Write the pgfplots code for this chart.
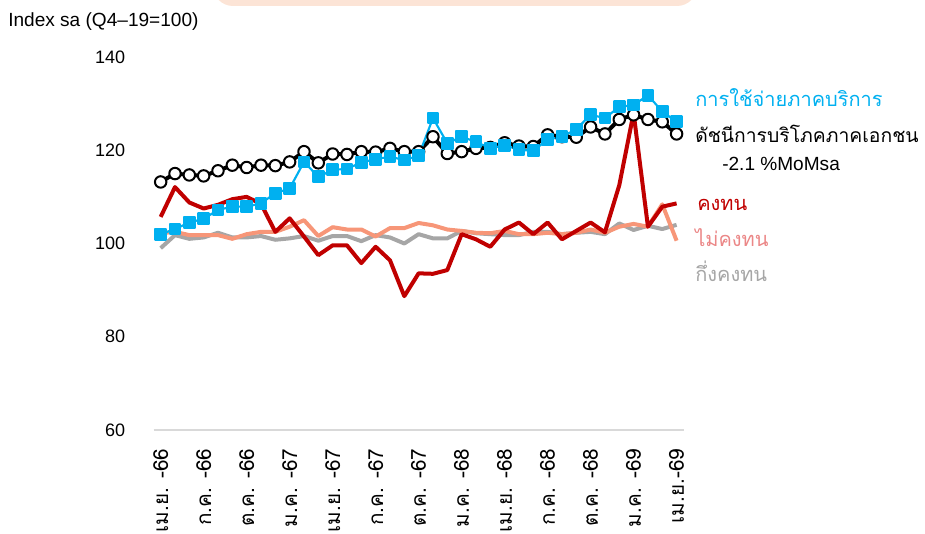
\documentclass[border=0pt]{standalone}
\usepackage{fontspec}
\setmainfont{Liberation Sans}
\newfontfamily\thaifont[Script=Thai]{Loma}
\usepackage{pgfplots}
\usepackage{pgfplotstable}
\pgfplotsset{compat=1.18}

\definecolor{serv}{HTML}{00B0F0}
\definecolor{dur}{HTML}{C00000}
\definecolor{nondur}{RGB}{247,150,120}
\definecolor{nondurtxt}{RGB}{235,135,135}
\definecolor{semi}{HTML}{A6A6A6}
\definecolor{axisgray}{HTML}{D9D9D9}
\definecolor{peach}{HTML}{FCE4D6}

% i = month index, Apr-66 ... Apr-69
\pgfplotstableread{
i pci serv dur nondur semi
0 113.2 102.0 105.7 102.2 99.0
1 115.0 103.1 112.1 102.5 101.8
2 114.7 104.5 108.8 101.8 101.0
3 114.5 105.3 107.5 101.8 101.3
4 115.6 107.2 108.3 101.8 102.3
5 116.8 107.9 109.5 101.0 101.3
6 116.3 107.9 110.0 102.0 101.3
7 116.8 108.6 108.5 102.5 101.6
8 116.7 110.8 102.5 102.5 100.8
9 117.5 111.8 105.4 103.6 101.1
10 119.7 117.5 101.5 105.0 101.6
11 117.3 114.3 97.5 101.6 100.6
12 119.2 115.8 99.6 103.5 101.6
13 119.1 116.0 99.6 103.0 101.6
14 119.7 117.4 95.8 103.0 100.5
15 119.6 118.1 99.3 101.5 101.8
16 120.4 118.6 96.4 103.3 101.3
17 119.7 117.9 88.7 103.3 100.0
18 119.7 118.8 93.6 104.4 102.0
19 122.9 126.9 93.5 103.9 101.1
20 119.3 121.5 94.3 103.0 101.1
21 119.7 122.9 102.0 102.7 102.7
22 120.4 121.8 100.9 102.3 102.2
23 120.6 120.4 99.3 102.2 102.0
24 121.6 121.1 103.0 102.7 101.8
25 120.9 120.1 104.5 102.0 101.8
26 120.8 119.9 102.0 102.0 102.5
27 123.3 122.3 104.5 102.3 102.5
28 122.9 122.9 100.9 102.0 102.0
29 122.8 124.5 102.7 102.3 102.3
30 125.0 127.6 104.5 103.0 102.5
31 123.5 126.9 102.4 102.3 102.0
32 126.6 129.3 112.5 103.6 104.3
33 127.6 129.7 128.0 104.2 102.9
34 126.6 131.8 103.6 103.6 103.8
35 126.1 128.3 107.9 108.4 103.1
36 123.5 126.1 108.6 100.6 104.0
}\data

\begin{document}
\begin{tikzpicture}[x=0.75pt,y=0.75pt]
% cut-off box at the top
\fill[peach] (213,560) [rounded corners=15pt] rectangle (697,527);

\begin{axis}[
    at={(115.125pt,77.25pt)}, anchor=south west,
    scale only axis, width=397.7pt, height=279.75pt,
    xmin=-0.5, xmax=36.5, ymin=60, ymax=140,
    ytick={60,80,100,120,140},
    xtick={0,3,...,36},
    xticklabels={เม.ย. -66, ก.ค. -66, ต.ค. -66, ม.ค. -67, เม.ย. -67, ก.ค. -67,
        ต.ค. -67, ม.ค. -68, เม.ย. -68, ก.ค. -68, ต.ค. -68, ม.ค. -69, เม.ย.-69},
    axis x line*=bottom, axis y line*=left,
    y axis line style={draw=none},
    x axis line style={draw=axisgray, line width=1.5pt},
    major tick length=0pt,
    tick label style={font=\fontsize{13.5}{16}\selectfont},
    yticklabel style={inner sep=0pt, anchor=east, xshift=-21pt},
    xticklabel style={font=\thaifont\fontsize{15.5}{18}\selectfont,
        rotate=90, anchor=east, inner sep=0pt, xshift=-14pt},
    /pgf/number format/assume math mode=true,
    clip=false,
    every axis plot/.append style={line join=round},
]
\addplot[semi, line width=3pt, no marks] table[x=i, y=semi] {\data};
\addplot[nondur, line width=3pt, no marks] table[x=i, y=nondur] {\data};
\addplot[dur, line width=3pt, no marks] table[x=i, y=dur] {\data};
\addplot[black, line width=3pt, mark=*, mark size=4.3pt,
    mark options={fill=white, draw=black, line width=1.5pt}] table[x=i, y=pci] {\data};
\addplot[serv, line width=1.6pt, mark=square*, mark size=4pt,
    mark options={fill=serv, draw=serv}] table[x=i, y=serv] {\data};
\end{axis}

\node[anchor=base west, inner sep=0pt, font=\fontsize{14.3}{16}\selectfont] at (8,506) {Index sa (Q4–19=100)};

\begin{scope}[every node/.style={anchor=base west, inner sep=0pt}]
\node[serv, font=\thaifont\fontsize{15}{17}\selectfont] at (695,426) {การใช้จ่ายภาคบริการ};
\node[black, font=\thaifont\fontsize{14.5}{17}\selectfont] at (695,390) {ดัชนีการบริโภคภาคเอกชน};
\node[black, font=\fontsize{14.3}{16}\selectfont] at (722,362.5) {-2.1 \%MoMsa};
\node[dur, font=\thaifont\fontsize{15}{17}\selectfont] at (697,322) {คงทน};
\node[nondurtxt, font=\thaifont\fontsize{15}{17}\selectfont] at (695,286.5) {ไม่คงทน};
\node[semi, font=\thaifont\fontsize{15}{17}\selectfont] at (695,251.5) {กึ่งคงทน};
\end{scope}

\pgfresetboundingbox
\path[use as bounding box] (0,0) rectangle (925,533);
\end{tikzpicture}
\end{document}
